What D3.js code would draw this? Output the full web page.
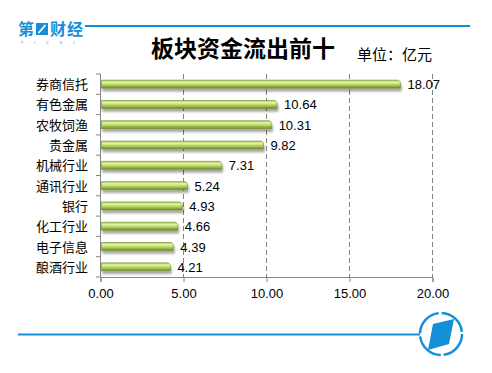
<!DOCTYPE html>
<html>
<head>
<meta charset="utf-8">
<script src="https://cdn.jsdelivr.net/npm/d3@7"></script>
<style>
  body { margin: 0; background: #fff; }
  svg { font-family: "Noto Sans CJK SC", "Liberation Sans", sans-serif; }
</style>
</head>
<body>
<div id="chart"></div>
<script>
// 数据
const categories = ["券商信托", "有色金属", "农牧饲渔", "贵金属", "机械行业", "通讯行业", "银行", "化工行业", "电子信息", "酿酒行业"];
const values = [18.07, 10.64, 10.31, 9.82, 7.31, 5.24, 4.93, 4.66, 4.39, 4.21];
const xTicks = [0, 5, 10, 15, 20];

const width = 492, height = 373;
const blue = "#1590d8";

const svg = d3.select("#chart").append("svg")
    .attr("width", width)
    .attr("height", height);

const defs = svg.append("defs");

// 渐变：圆柱效果
const grad = defs.append("linearGradient")
    .attr("id", "barGrad")
    .attr("x1", 0).attr("y1", 0).attr("x2", 0).attr("y2", 1);
grad.append("stop").attr("offset", "0%").attr("stop-color", "#9fbf50");
grad.append("stop").attr("offset", "25%").attr("stop-color", "#e6f5a8");
grad.append("stop").attr("offset", "55%").attr("stop-color", "#b9d866");
grad.append("stop").attr("offset", "100%").attr("stop-color", "#6d8a26");

const shadow = defs.append("filter").attr("id", "shadow")
    .attr("x", "-5%").attr("y", "-50%").attr("width", "115%").attr("height", "250%");
shadow.append("feGaussianBlur").attr("in", "SourceAlpha").attr("stdDeviation", 1.3);
shadow.append("feOffset").attr("dx", 1).attr("dy", 2.5).attr("result", "blur");
shadow.append("feComponentTransfer").append("feFuncA").attr("type", "linear").attr("slope", 0.35);
const merge = shadow.append("feMerge");
merge.append("feMergeNode");
merge.append("feMergeNode").attr("in", "SourceGraphic");

// 顶部 logo 与线
const logo = svg.append("g").attr("transform", "translate(18,0)");
logo.append("text")
    .attr("x", 0).attr("y", 35)
    .attr("fill", blue)
    .style("font-size", "16px")
    .style("font-weight", "bold")
    .text("第");
logo.append("rect")
    .attr("x", 18).attr("y", 23).attr("width", 12).attr("height", 12)
    .attr("fill", blue);
logo.append("path")
    .attr("d", "M20.5,33 L27.5,25")
    .attr("stroke", "#fff").attr("stroke-width", 1.8);
logo.append("text")
    .attr("x", 32).attr("y", 35)
    .attr("fill", blue)
    .style("font-size", "16px")
    .style("font-weight", "bold")
    .style("letter-spacing", "1px")
    .text("财经");
logo.append("text")
    .attr("x", 3).attr("y", 44)
    .attr("fill", blue)
    .style("font-size", "4px")
    .style("letter-spacing", "11px")
    .text("YICAI");

svg.append("line")
    .attr("x1", 85).attr("x2", 470)
    .attr("y1", 26).attr("y2", 26)
    .attr("stroke", blue).attr("stroke-width", 2);

// 标题
svg.append("text")
    .attr("x", 243).attr("y", 57)
    .attr("text-anchor", "middle")
    .style("font-size", "23px")
    .style("font-weight", "bold")
    .text("板块资金流出前十");

svg.append("text")
    .attr("x", 357).attr("y", 60)
    .style("font-size", "15px")
    .text("单位：亿元");

// 绘图区
const x = d3.scaleLinear().domain([0, 20]).range([100.5, 432.5]);
const y = d3.scaleBand().domain(categories).range([74, 277]);

// 网格线
svg.append("g")
    .selectAll("line")
    .data(xTicks.slice(1))
    .enter()
    .append("line")
    .attr("x1", d => x(d)).attr("x2", d => x(d))
    .attr("y1", 74).attr("y2", 277)
    .attr("stroke", "#808080")
    .attr("stroke-dasharray", "5,3");

// X 轴
const xAxis = svg.append("g")
    .attr("transform", "translate(0,277)")
    .call(d3.axisBottom(x).tickValues(xTicks).tickSize(5).tickFormat(d3.format(".2f")));
xAxis.select(".domain").attr("stroke", "#868686");
xAxis.selectAll(".tick line").attr("stroke", "#868686");
xAxis.selectAll("text")
    .attr("y", 12)
    .attr("fill", "#000")
    .style("font-family", "'Liberation Sans', sans-serif")
    .style("font-size", "13px");

// Y 轴（分隔刻度）
const yAxisG = svg.append("g");
yAxisG.append("line")
    .attr("x1", 100.5).attr("x2", 100.5)
    .attr("y1", 74).attr("y2", 277)
    .attr("stroke", "#868686");
yAxisG.selectAll("line.sep")
    .data(d3.range(categories.length + 1))
    .enter()
    .append("line")
    .attr("class", "sep")
    .attr("x1", 96).attr("x2", 100.5)
    .attr("y1", i => 74 + i * y.step())
    .attr("y2", i => 74 + i * y.step())
    .attr("stroke", "#868686");

yAxisG.selectAll("text")
    .data(categories)
    .enter()
    .append("text")
    .attr("x", 88)
    .attr("y", d => y(d) + y.bandwidth() / 2 + 5)
    .attr("text-anchor", "end")
    .style("font-size", "13px")
    .text(d => d);

// 柱子
const barH = 8;
const bars = svg.append("g").attr("filter", "url(#shadow)");
bars.selectAll("path")
    .data(values)
    .enter()
    .append("path")
    .attr("d", (d, i) => {
        const y0 = y(categories[i]) + y.bandwidth() / 2 - barH / 2;
        const x0 = x(0) + 1, x1 = x(d);
        return `M${x0},${y0} L${x1 - 2},${y0} L${x1},${y0 + 2} L${x1},${y0 + barH} L${x0},${y0 + barH} Z`;
    })
    .attr("fill", "url(#barGrad)")
    .attr("stroke", "#6f8f2a")
    .attr("stroke-width", 0.6);

// 数值标签
svg.append("g")
    .selectAll("text")
    .data(values)
    .enter()
    .append("text")
    .attr("x", d => x(d) + 7)
    .attr("y", (d, i) => y(categories[i]) + y.bandwidth() / 2 + 5)
    .style("font-family", "'Liberation Sans', sans-serif")
    .style("font-size", "13px")
    .text(d => d.toFixed(2));

// 底部线与 logo
svg.append("line")
    .attr("x1", 18).attr("x2", 420)
    .attr("y1", 334.5).attr("y2", 334.5)
    .attr("stroke", blue).attr("stroke-width", 2);

const circ = svg.append("g").attr("transform", "translate(441,334)");
circ.append("circle")
    .attr("r", 21)
    .attr("fill", "none")
    .attr("stroke", blue)
    .attr("stroke-width", 2.5)
    .attr("stroke-dasharray", "30,3");
circ.append("path")
    .attr("d", "M-8,-10 L13,-15 L8,10 L-13,16 Z")
    .attr("fill", blue);
</script>
</body>
</html>
